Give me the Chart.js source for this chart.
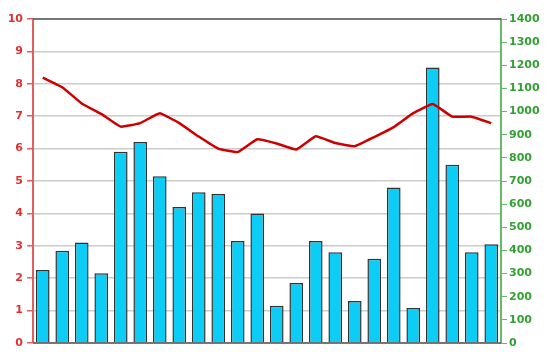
<!DOCTYPE html>
<html>
<head>
<meta charset="utf-8">
<script src="https://cdn.jsdelivr.net/npm/chart.js@4/dist/chart.umd.min.js"></script>
<style>
    html, body { margin: 0; padding: 0; background: #fff; }
    #wrap { width: 550px; height: 364px; }
</style>
</head>
<body>
<div id="wrap"><canvas id="chart" width="550" height="364"></canvas></div>
<script>
// Chart data
const categories = ['1','2','3','4','5','6','7','8','9','10','11','12',
                    '13','14','15','16','17','18','19','20','21','22','23','24'];
const barValues = [2.25, 2.85, 3.1, 2.15, 5.9, 6.2, 5.15, 4.2, 4.65, 4.6, 3.15, 4.0,
                   1.15, 1.85, 3.15, 2.8, 1.3, 2.6, 4.8, 1.08, 8.5, 5.5, 2.8, 3.05];
const lineValues = [1147, 1105, 1035, 990, 935, 950, 993, 950, 892, 840, 825, 880,
                    862, 836, 893, 864, 850, 890, 933, 993, 1033, 978, 978, 950];
const leftAxis = { min: 0, max: 10, step: 1 };
const rightAxis = { min: 0, max: 1400, step: 100 };

// Top and bottom frame lines
const framePlugin = {
    id: 'frame',
    afterDraw(chart) {
        const { ctx, chartArea } = chart;
        ctx.save();
        ctx.strokeStyle = '#555';
        ctx.lineWidth = 1.5;
        ctx.beginPath();
        ctx.moveTo(chartArea.left, chartArea.top);
        ctx.lineTo(chartArea.right, chartArea.top);
        ctx.moveTo(chartArea.left, chartArea.bottom);
        ctx.lineTo(chartArea.right, chartArea.bottom);
        ctx.stroke();
        ctx.restore();
    }
};

const tickFont = { family: 'DejaVu Sans', size: 11, weight: 'bold' };

new Chart(document.getElementById('chart').getContext('2d'), {
    type: 'bar',
    data: {
        labels: categories,
        datasets: [{
            type: 'line',
            data: lineValues,
            yAxisID: 'y2',
            borderColor: '#cc0000',
            borderWidth: 2.5,
            pointRadius: 0,
            tension: 0.1,
            order: 0
        }, {
            type: 'bar',
            data: barValues,
            yAxisID: 'y',
            backgroundColor: '#0ccdf5',
            borderColor: '#333',
            borderWidth: 1.5,
            barPercentage: 0.7,
            categoryPercentage: 1,
            order: 1
        }]
    },
    options: {
        responsive: false,
        animation: false,
        layout: { padding: { top: 19, bottom: 21, left: 0, right: 0 } },
        plugins: { legend: { display: false }, tooltip: { enabled: false } },
        scales: {
            x: { display: false, offset: true },
            y: {
                position: 'left',
                min: leftAxis.min,
                max: leftAxis.max,
                afterFit(scale) { scale.width = 33; },
                ticks: { stepSize: leftAxis.step, color: '#e03030', font: tickFont, padding: 4 },
                grid: { color: '#cccccc', lineWidth: 1.5, tickColor: '#e06060', tickLength: 6 },
                border: { color: '#e06060', width: 2 }
            },
            y2: {
                position: 'right',
                min: rightAxis.min,
                max: rightAxis.max,
                afterFit(scale) { scale.width = 49; },
                ticks: {
                    stepSize: rightAxis.step,
                    color: '#33a033',
                    font: tickFont,
                    padding: 2,
                    callback: v => String(v)
                },
                grid: { drawOnChartArea: false, tickColor: '#66bb66', tickLength: 6 },
                border: { color: '#66bb66', width: 2 }
            }
        }
    },
    plugins: [framePlugin]
});
</script>
</body>
</html>
